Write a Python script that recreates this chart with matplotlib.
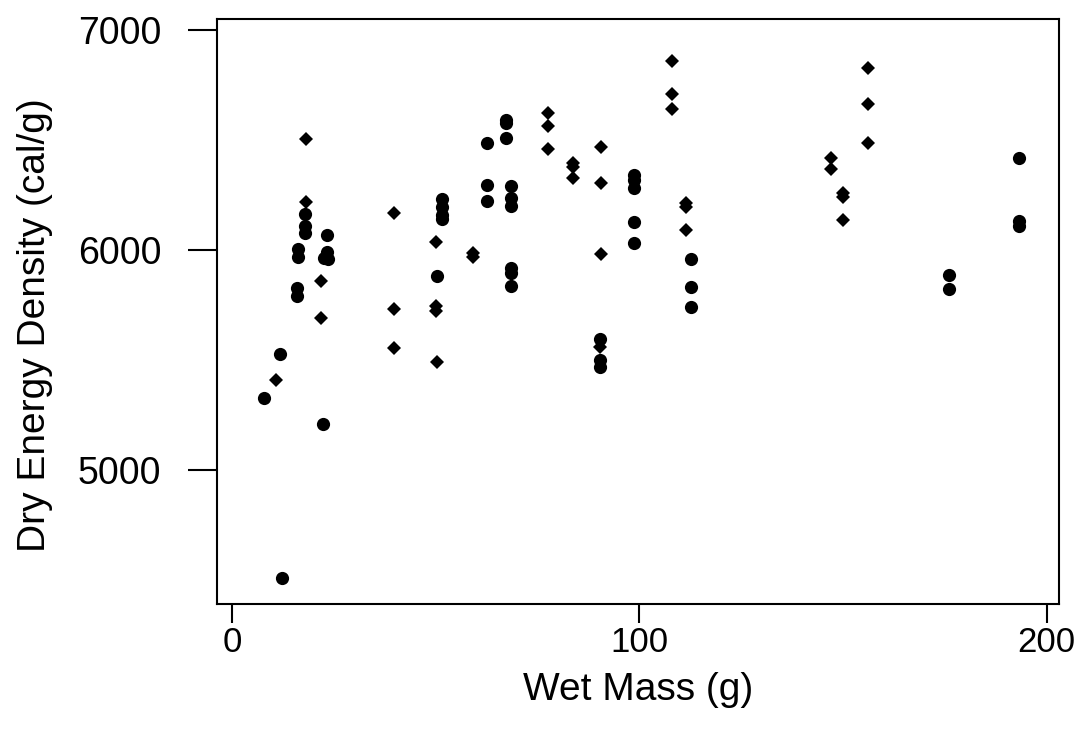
import matplotlib
matplotlib.use("Agg")
import matplotlib.pyplot as plt
from matplotlib import font_manager

# Circles (filled) - wet mass (g), dry energy density (cal/g)
circle_mass = [7.9, 11.8, 12.3, 16.0, 16.0, 16.2, 16.2, 17.9, 17.9, 17.9,
               22.3, 23.4, 23.4, 22.5, 23.6,
               50.3, 51.6, 51.6, 51.6, 51.6,
               62.6, 62.6, 62.6, 67.2, 67.2, 67.2,
               68.5, 68.5, 68.5, 68.5, 68.5, 68.5,
               90.3, 90.3, 90.3,
               98.7, 98.7, 98.7, 98.7, 98.7,
               112.6, 112.6, 112.6,
               175.9, 175.9,
               193.1, 193.1, 193.1]
circle_energy = [5325, 5525, 4510, 5825, 5790, 6005, 5970, 6165, 6110, 6075,
                 5210, 6070, 5990, 5965, 5960,
                 5880, 6230, 6195, 6160, 6140,
                 6485, 6295, 6222, 6590, 6575, 6510,
                 6290, 6236, 6200, 5918, 5895, 5837,
                 5596, 5501, 5470,
                 6340, 6318, 6281, 6127, 6032,
                 5959, 5832, 5741,
                 5887, 5823,
                 6417, 6132, 6109]

# Diamonds
diamond_mass = [10.8, 18.2, 18.2, 21.8, 21.8,
                39.8, 39.8, 39.8,
                50.1, 50.1, 50.1, 50.3,
                59.1, 59.1,
                77.5, 77.5, 77.5,
                83.7, 83.7, 83.7,
                90.5, 90.5, 90.5, 90.3,
                108.0, 108.0, 108.0,
                111.4, 111.4, 111.4,
                147.0, 147.0,
                150.0, 150.0, 150.0,
                156.1, 156.1, 156.1]
diamond_energy = [5410, 6503, 6218, 5859, 5690,
                  6168, 5732, 5556,
                  6036, 5746, 5723, 5492,
                  5985, 5970,
                  6621, 6562, 6458,
                  6395, 6376, 6327,
                  6467, 6304, 5982, 5560,
                  6857, 6707, 6639,
                  6215, 6195, 6091,
                  6420, 6367,
                  6260, 6240, 6136,
                  6825, 6662, 6485]

x_ticks = [0, 100, 200]
y_ticks = [5000, 6000, 7000]

available = {f.name for f in font_manager.fontManager.ttflist}
narrow = "Liberation Sans Narrow" if "Liberation Sans Narrow" in available else "Liberation Sans"

plt.rcParams["font.family"] = ["Liberation Sans", "DejaVu Sans"]

fig = plt.figure(figsize=(10.85, 7.29), dpi=100)
ax = fig.add_axes([0.2, 0.1715, 0.776, 0.8025])

ax.plot(circle_mass, circle_energy, "o", color="black", markersize=9.5,
        markeredgewidth=0, linestyle="none")
ax.plot(diamond_mass, diamond_energy, "D", color="black", markersize=7,
        markeredgewidth=0, linestyle="none")

ax.set_xlim(-3.7, 203)
ax.set_ylim(4391, 7050)

ax.set_xticks(x_ticks)
ax.set_yticks(y_ticks)
ax.set_xticklabels([str(t) for t in x_ticks], family=narrow, fontsize=25)
ax.set_yticklabels([str(t) for t in y_ticks], fontsize=27)

ax.tick_params(axis="y", direction="out", length=21, width=1.5, pad=19)
ax.tick_params(axis="x", direction="out", length=14, width=1.5, pad=2)
for spine in ax.spines.values():
    spine.set_linewidth(1.5)

ax.set_xlabel("Wet Mass (g)", family=narrow, fontsize=28)
ax.xaxis.set_label_coords(0.5, -0.117)
ax.set_ylabel("Dry Energy Density (cal/g)", fontsize=28)
ax.yaxis.set_label_coords(-0.195, 0.476)

fig.savefig("out.png", dpi=100)
